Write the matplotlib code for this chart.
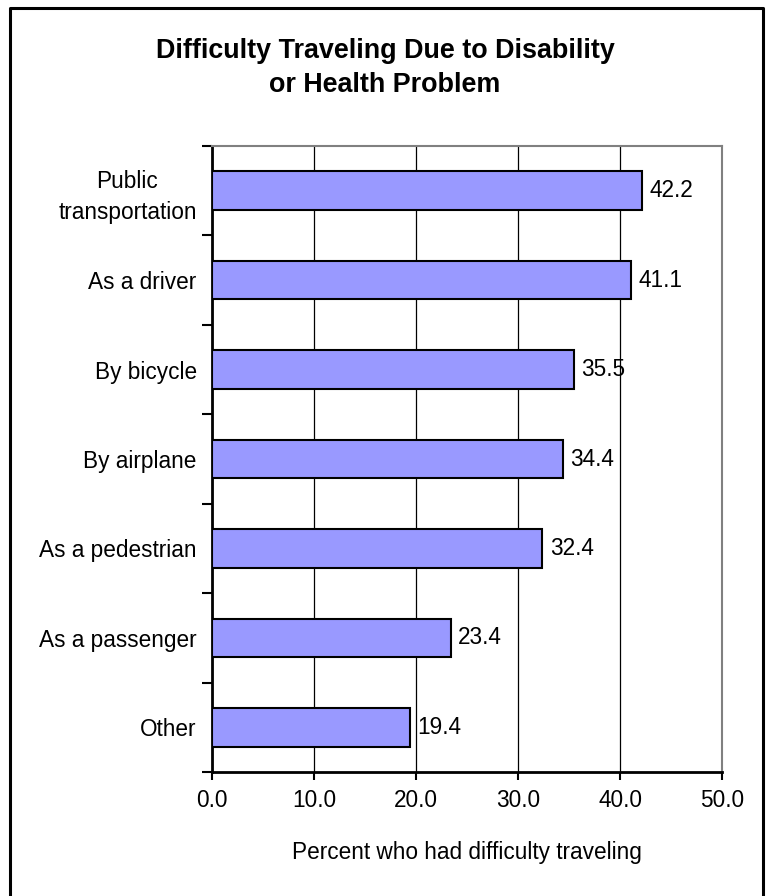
import matplotlib
matplotlib.use("Agg")
import matplotlib.pyplot as plt
from matplotlib.lines import Line2D
import numpy as np

plt.rcParams['font.family'] = ['Liberation Sans', 'DejaVu Sans']

categories = ["Public\ntransportation", "As a driver", "By bicycle", "By airplane",
              "As a pedestrian", "As a passenger", "Other"]
values = [42.2, 41.1, 35.5, 34.4, 32.4, 23.4, 19.4]
x_ticks = [0, 10, 20, 30, 40, 50]
x_tick_labels = ["0.0", "10.0", "20.0", "30.0", "40.0", "50.0"]

FS = 16.3

fig = plt.figure(figsize=(7.71, 8.96), dpi=100)
ax = fig.add_axes([212 / 771, 1 - 772 / 896, (722 - 212) / 771, (772 - 146) / 896])

n = len(categories)
y = np.arange(n)
ax.barh(y, values, height=0.43, color="#9999FF", edgecolor="black", linewidth=1.5, zorder=3)
for yi, v in zip(y, values):
    ax.text(v + 0.7, yi, f"{v:.1f}", va="center", ha="left", fontsize=FS, zorder=4)

ax.set_xlim(0, 50)
ax.set_ylim(n - 0.5, -0.5)
ax.set_xticks(x_ticks)
ax.set_xticklabels(x_tick_labels, fontsize=FS)
ax.xaxis.grid(True, color="black", linewidth=0.9, zorder=0)
ax.tick_params(axis="x", direction="out", length=6, width=1.5, pad=6)

# category labels without tick marks; separator ticks between categories
ax.set_yticks(y)
ax.set_yticklabels(categories, fontsize=FS, multialignment="center", linespacing=1.43)
ax.tick_params(axis="y", length=0, pad=11)
ax.set_yticks(np.arange(n + 1) - 0.5, minor=True)
ax.tick_params(axis="y", which="minor", direction="out", length=7, width=1.5)

for side in ("top", "right"):
    ax.spines[side].set_color("#808080")
    ax.spines[side].set_linewidth(1.5)
for side in ("left", "bottom"):
    ax.spines[side].set_color("black")
    ax.spines[side].set_linewidth(2)

ax.set_xlabel("Percent who had difficulty traveling", fontsize=FS, labelpad=21)

fig.text(385 / 771, 1 - 68 / 896, "Difficulty Traveling Due to Disability\nor Health Problem",
         ha="center", va="center", fontsize=19.4, fontweight="bold", linespacing=1.42)

# outer chart frame
fx = [10 / 771, 10 / 771, 763 / 771, 763 / 771]
fy = [-0.01, 1 - 8 / 896, 1 - 8 / 896, -0.01]
fig.add_artist(Line2D(fx, fy, color="black", linewidth=2.2, transform=fig.transFigure))

fig.savefig("out.png", dpi=100)
